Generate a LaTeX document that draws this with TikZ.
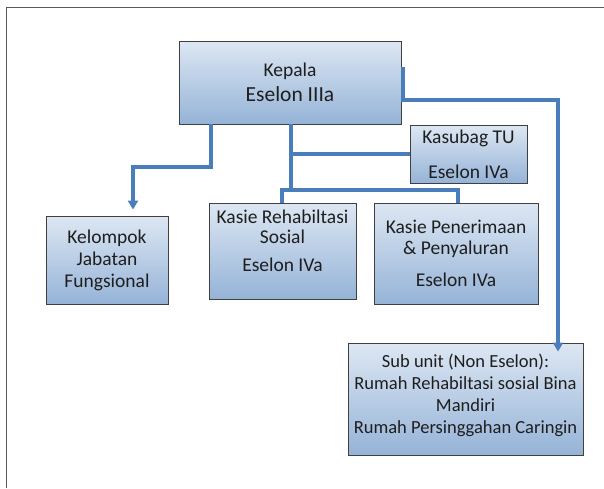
\documentclass[tikz,border=0pt]{standalone}
\usepackage{fontspec}
\setmainfont{Carlito}
\usetikzlibrary{arrows.meta,shadows}
\definecolor{linkblue}{RGB}{74,126,187}
\definecolor{boxtop}{RGB}{221,231,243}
\definecolor{boxbottom}{RGB}{149,179,215}
\definecolor{inktext}{RGB}{30,30,30}

\begin{document}
\begin{tikzpicture}
[ x=1pt, y=-1pt
, point/.style={coordinate}
, unit/.style={rectangle, draw=black!75, line width=0.9pt, top color=boxtop, bottom color=boxbottom, align=center, inner sep=1pt, text=inktext, font=\fontsize{19.5}{22}\selectfont, drop shadow={shadow xshift=1.2pt, shadow yshift=-1.2pt, fill=black!45}}
, link/.style={draw=linkblue, line width=3.2pt}
, arrowlink/.style={link, -{Triangle[length=9pt, width=10pt]}}
, frame/.style={draw=black!65, line width=1.4pt}
]
\useasboundingbox (0,0) rectangle (604,488);
\draw [frame] (6.5,488) -- (6.5,7.5) -- (604,7.5);
% Boxes:
\node (kepala) [unit, minimum width=222pt, minimum height=83pt] at (290,82.5)
  {Kepala\\[3pt]{\fontsize{21.5}{24}\selectfont Eselon IIIa}};
\node (kasubag) [unit, minimum width=117pt, minimum height=58pt] at (468.5,154)
  {Kasubag TU\\[13pt]Eselon IVa};
\node (kelompok) [unit, minimum width=122pt, minimum height=88pt] at (107,260)
  {Kelompok\\Jabatan\\Fungsional};
\node (rehab) [unit, minimum width=147pt, minimum height=96pt] at (282.5,251)
  {Kasie Rehabiltasi\\[-2pt]Sosial\\[6pt]Eselon IVa\\[-2pt]\mbox{}};
\node (penerimaan) [unit, minimum width=164pt, minimum height=101pt] at (456,253.5)
  {Kasie Penerimaan\\[-1pt]\& Penyaluran\\[10pt]Eselon IVa};
\node (subunit) [unit, minimum width=235pt, minimum height=112pt, font=\fontsize{18.5}{22}\selectfont] at (465.5,399)
  {Sub unit (Non Eselon):\\Rumah Rehabiltasi sosial Bina\\Mandiri\\Rumah Persinggahan Caringin\\[-12pt]\mbox{}};
% Bends:
\node (p1) [point] at (211,167) {};
\node (p2) [point] at (133,167) {};
\node (p3) [point] at (291,190) {};
\node (p4) [point] at (282,190) {};
\node (p5) [point] at (458,190) {};
\node (p6) [point] at (403,67) {};
\node (p7) [point] at (558,100) {};
% Connectors:
\draw [arrowlink] (p1 |- kepala.south) -- (p1) -- (p2) -- ([yshift=6pt]p2 |- kelompok.north);
\draw [link] (p3 |- kepala.south) -- (p3);
\draw [link] (p3 |- kasubag.west) -- (kasubag.west);
\draw [link] (p4 |- rehab.north) -- (p4) -- (p5) -- (p5 |- penerimaan.north);
\draw [arrowlink] (p6) |- (p7) -- ([yshift=-9pt]p7 |- subunit.north);
\end{tikzpicture}
\end{document}
